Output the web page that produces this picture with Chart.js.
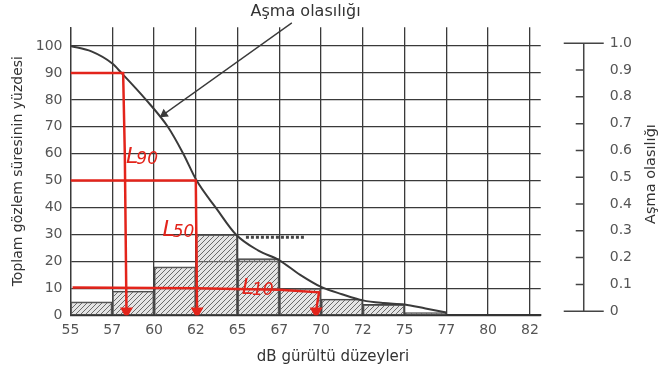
<!DOCTYPE html>
<html>
<head>
<meta charset="utf-8">
<script src="https://cdn.jsdelivr.net/npm/chart.js@4.4.0/dist/chart.umd.min.js"></script>
<style>
    html, body { margin: 0; padding: 0; background: #fff; }
</style>
</head>
<body>
<canvas id="noiseChart" width="666" height="376"></canvas>
<script>
// x positions are interval indexes: 0 = 55 dB, 1 = 57 dB, ... 11 = 82 dB
const dbLabels = ['55', '57', '60', '62', '65', '67', '70', '72', '75', '77', '80', '82'];
const percentTicks = [0, 10, 20, 30, 40, 50, 60, 70, 80, 90, 100];
const probTicks = [0, 0.1, 0.2, 0.3, 0.4, 0.5, 0.6, 0.7, 0.8, 0.9, 1.0];

// histogram: share of observation time per band
const barValues = [5, 9, 18, 30, 21, 10, 6, 4, 1, 0, 0];

// exceedance curve
const curveX = [0, 0.5, 1, 1.22, 1.81, 2.33, 2.7, 3.02, 3.5, 3.96, 4.5, 5.0, 5.5, 6.0, 6.5, 7.0, 7.5, 8.0, 8.5, 9.0];
const curveY = [100, 98, 93.5, 90, 80, 70, 60, 50, 39.5, 30, 24, 20.4, 15, 10.5, 7.8, 5.5, 4.5, 4, 2.5, 1];

// pointer from the "Aşma olasılığı" caption to the curve
const pointerX = [5.3, 2.24];
const pointerY = [108.6, 74.7];

// heavy dotted mark at 30
const markX = [4.2, 5.6];
const markY = [29, 29];

// red hand drawn reading lines
const l90X = [0, 1.26, 1.3, 1.34];
const l90Y = [90, 90, 60, 1.5];
const l50X = [0, 3.0, 3.03];
const l50Y = [50, 50, 1.5];
const l10X = [0.05, 3, 5, 5.95, 5.88];
const l10Y = [10.3, 10, 9.5, 8.5, 1.5];

// red handwritten labels: [letter, subscript, x, y]
const redNotes = [['L', '90', 1.33, 59], ['L', '50', 2.2, 32], ['L', '10', 4.1, 10.5]];

const toPoints = (xs, ys) => xs.map((x, i) => ({ x: x, y: ys[i] }));

function makeHatch() {
    const c = document.createElement('canvas');
    c.width = 5;
    c.height = 5;
    const g = c.getContext('2d');
    g.fillStyle = 'rgba(180,180,180,0.35)';
    g.fillRect(0, 0, 5, 5);
    g.strokeStyle = '#6a6a6a';
    g.lineWidth = 1;
    g.beginPath();
    g.moveTo(0, 5); g.lineTo(5, 0);
    g.moveTo(-2.5, 2.5); g.lineTo(2.5, -2.5);
    g.moveTo(2.5, 7.5); g.lineTo(7.5, 2.5);
    g.stroke();
    return g.createPattern(c, 'repeat');
}

const RED = '#e3241b';
const INK = '#3a3a3a';

const extras = {
    id: 'extras',
    afterDraw(chart) {
        const ctx = chart.ctx;
        const xs = chart.scales.x;
        const ys = chart.scales.y;
        const y2 = chart.scales.y2;
        const area = chart.chartArea;

        // separate probability axis on the right
        const ax = area.right + 43;
        ctx.save();
        ctx.strokeStyle = '#444';
        ctx.lineWidth = 1.5;
        ctx.beginPath();
        ctx.moveTo(ax, y2.getPixelForValue(0));
        ctx.lineTo(ax, y2.getPixelForValue(1));
        probTicks.forEach(v => {
            const py = y2.getPixelForValue(v);
            if (v === 0 || v === 1) {
                ctx.moveTo(ax - 20, py);
                ctx.lineTo(ax + 20, py);
            } else {
                ctx.moveTo(ax - 8, py);
                ctx.lineTo(ax, py);
            }
        });
        ctx.stroke();

        // right title, reading upward
        ctx.fillStyle = '#333';
        ctx.font = '14.5px "DejaVu Sans"';
        ctx.textAlign = 'center';
        ctx.textBaseline = 'middle';
        ctx.translate(651, 174);
        ctx.rotate(-Math.PI / 2);
        ctx.fillText('Aşma olasılığı', 0, 0);
        ctx.restore();

        // x title
        ctx.save();
        ctx.fillStyle = '#333';
        ctx.font = '15px "DejaVu Sans"';
        ctx.textAlign = 'center';
        ctx.textBaseline = 'middle';
        ctx.fillText('dB gürültü düzeyleri', 333, 357);
        ctx.restore();

        // red notes
        ctx.save();
        ctx.fillStyle = RED;
        ctx.textBaseline = 'alphabetic';
        ctx.textAlign = 'left';
        redNotes.forEach(([big, small, x, y]) => {
            const px = xs.getPixelForValue(x);
            const py = ys.getPixelForValue(y) + 7;
            ctx.font = 'italic 22px "DejaVu Sans"';
            ctx.fillText(big, px, py);
            const w = ctx.measureText(big).width;
            ctx.font = 'italic 17px "DejaVu Sans"';
            ctx.fillText(small, px + w - 2, py + 1);
        });
        ctx.restore();
    }
};

const redLine = (xs, ys) => ({
    type: 'line',
    data: toPoints(xs, ys),
    borderColor: RED,
    borderWidth: 2.5,
    pointRadius: xs.map((_, i) => i === xs.length - 1 ? 5 : 0),
    pointStyle: 'triangle',
    rotation: 180,
    pointBackgroundColor: RED,
    pointBorderColor: RED,
    tension: 0,
    order: 0
});

Chart.defaults.font.family = '"DejaVu Sans"';
Chart.defaults.color = '#555';

new Chart(document.getElementById('noiseChart').getContext('2d'), {
    type: 'bar',
    data: {
        datasets: [
            redLine(l90X, l90Y),
            redLine(l50X, l50Y),
            redLine(l10X, l10Y),
            {
                type: 'line',
                data: toPoints(pointerX, pointerY),
                borderColor: INK,
                borderWidth: 1.3,
                pointRadius: [0, 4],
                pointStyle: 'triangle',
                rotation: 235,
                pointBackgroundColor: INK,
                pointBorderColor: INK,
                clip: false,
                order: 1
            },
            {
                type: 'line',
                data: toPoints(curveX, curveY),
                borderColor: INK,
                borderWidth: 2,
                pointRadius: 0,
                cubicInterpolationMode: 'monotone',
                order: 2
            },
            {
                type: 'line',
                data: toPoints(markX, markY),
                borderColor: '#444',
                borderWidth: 3,
                borderDash: [3, 2],
                pointRadius: 0,
                order: 3
            },
            {
                type: 'bar',
                data: barValues.map((v, i) => ({ x: i + 0.5, y: v })),
                backgroundColor: makeHatch(),
                borderColor: '#444',
                borderWidth: 1.2,
                barPercentage: 1,
                categoryPercentage: 1,
                order: 5
            }
        ]
    },
    options: {
        responsive: false,
        animation: false,
        layout: { padding: { left: 6, right: 32, top: 0, bottom: 30 } },
        plugins: {
            legend: { display: false },
            tooltip: { enabled: false },
            title: {
                display: true,
                text: 'Aşma olasılığı',
                fullSize: false,
                color: '#333',
                font: { size: 16, weight: 'normal' },
                padding: { top: 2, bottom: 6 }
            }
        },
        scales: {
            x: {
                type: 'linear',
                offset: false,
                min: 0,
                max: 11.26,
                afterBuildTicks: s => { s.ticks = dbLabels.map((_, i) => ({ value: i })); },
                ticks: {
                    callback: v => dbLabels[v],
                    font: { size: 14 },
                    padding: 7,
                    maxRotation: 0,
                    autoSkip: false
                },
                grid: { offset: false, color: INK, lineWidth: 1.3, drawTicks: false },
                border: { color: '#333', width: 2 }
            },
            y: {
                min: 0,
                max: 107,
                afterBuildTicks: s => { s.ticks = percentTicks.map(v => ({ value: v })); },
                ticks: { font: { size: 14 }, padding: 8 },
                grid: { color: INK, lineWidth: 1.3, drawTicks: false },
                border: { color: INK, width: 1.3 },
                title: {
                    display: true,
                    text: 'Toplam gözlem süresinin yüzdesi',
                    color: '#333',
                    font: { size: 14 },
                    padding: { top: 4, bottom: 1 }
                }
            },
            y2: {
                position: 'right',
                min: -0.015,
                max: 1.06,
                afterBuildTicks: s => { s.ticks = probTicks.map(v => ({ value: v })); },
                ticks: {
                    font: { size: 14 },
                    padding: 2,
                    callback: v => v === 0 ? '0' : v.toFixed(1)
                },
                // invisible tick marks only push the labels away from the plot
                grid: { display: true, drawOnChartArea: false, drawTicks: true, tickLength: 67, tickColor: 'rgba(0,0,0,0)' },
                border: { display: false }
            }
        }
    },
    plugins: [extras]
});
</script>
</body>
</html>
